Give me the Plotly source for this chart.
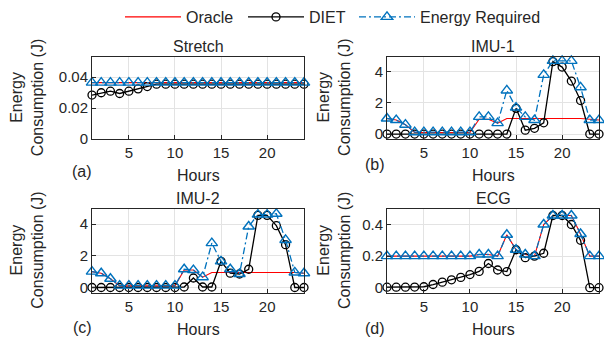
import plotly.graph_objects as go

W, H = 604, 349

hours = list(range(1, 25))

# Stretch
stretch_oracle = [0.0365] * 24
stretch_diet = [0.0285, 0.0300, 0.0310, 0.0295, 0.0310, 0.0325, 0.0340, 0.0355,
                0.0355, 0.0355, 0.0355, 0.0355, 0.0355, 0.0355, 0.0355, 0.0355,
                0.0355, 0.0355, 0.0355, 0.0355, 0.0355, 0.0355, 0.0355, 0.0355]
stretch_energy = [0.0365] * 24

# IMU-1
imu1_oracle = [1.0, 0.9, 0.6, 0.1, 0.1, 0.1, 0.1, 0.1, 0.1, 0.1, 0.95, 0.95,
               0.7, 1.0, 1.0, 1.0, 1.0, 1.0, 1.0, 1.0, 1.0, 1.0, 0.95, 0.9]
imu1_diet = [0, 0, 0, 0, 0, 0, 0, 0, 0, 0, 0, 0,
             0, 0, 1.65, 0.25, 0.37, 0.72, 4.65, 4.3, 3.4, 2.15, 0, 0]
imu1_energy = [1.0, 0.9, 0.6, 0.12, 0.12, 0.12, 0.12, 0.12, 0.12, 0.12, 1.1, 1.1,
               0.7, 2.8, 1.7, 1.1, 0.9, 3.8, 4.7, 4.7, 4.7, 3.0, 0.9, 0.9]

# IMU-2
imu2_oracle = [1.0, 0.9, 0.55, 0.1, 0.1, 0.1, 0.1, 0.1, 0.1, 0.1, 1.1, 1.1,
               0.65, 0.95, 0.95, 0.95, 0.95, 0.95, 0.95, 0.95, 0.95, 0.95, 0.95, 0.9]
imu2_diet = [0, 0, 0, 0, 0, 0, 0, 0, 0, 0, 0.03, 0.6,
             0.03, 0.03, 1.65, 0.9, 0.85, 1.15, 4.55, 4.55, 3.9, 2.7, 0, 0]
imu2_energy = [1.0, 0.9, 0.55, 0.12, 0.12, 0.12, 0.12, 0.12, 0.12, 0.12, 1.15, 1.1,
               0.65, 2.8, 1.65, 1.15, 0.85, 3.85, 4.6, 4.6, 4.65, 3.0, 0.95, 0.9]

# ECG
ecg_oracle = [0.2, 0.2, 0.2, 0.2, 0.2, 0.2, 0.2, 0.2, 0.2, 0.2, 0.21, 0.21,
              0.2, 0.335, 0.24, 0.21, 0.2, 0.40, 0.457, 0.457, 0.457, 0.34, 0.2, 0.2]
ecg_diet = [0.003, 0.003, 0.003, 0.004, 0.006, 0.02, 0.035, 0.05, 0.065, 0.083, 0.103, 0.153,
            0.112, 0.102, 0.24, 0.19, 0.2, 0.218, 0.457, 0.457, 0.40, 0.30, 0.0, 0.0]
ecg_energy = [0.2, 0.2, 0.2, 0.2, 0.2, 0.2, 0.2, 0.2, 0.2, 0.2, 0.21, 0.21,
              0.2, 0.335, 0.24, 0.21, 0.2, 0.40, 0.457, 0.457, 0.457, 0.34, 0.2, 0.2]

titles = ["Stretch", "IMU-1", "IMU-2", "ECG"]
panel_tags = ["(a)", "(b)", "(c)", "(d)"]
x_ticks = [5, 10, 15, 20]
y_ticks = [[0, 0.02, 0.04], [0, 2, 4], [0, 2, 4], [0, 0.2, 0.4]]
y_ticktext = [["0", "0.02", "0.04"], ["0", "2", "4"], ["0", "2", "4"], ["0", "0.2", "0.4"]]
y_ranges = [[0, 0.053], [-0.33, 4.97], [-0.33, 4.97], [-0.035, 0.5]]

series = [
    (stretch_oracle, stretch_diet, stretch_energy),
    (imu1_oracle, imu1_diet, imu1_energy),
    (imu2_oracle, imu2_diet, imu2_energy),
    (ecg_oracle, ecg_diet, ecg_energy),
]

# plot boxes in pixels: x0, x1, ytop, ybottom
boxes = [(92, 304, 55, 140), (387, 599, 54.5, 140),
         (92, 304, 212, 299), (387, 599, 212, 299.5)]

TXT = "#262626"
FONT = "Liberation Sans, Arial, Helvetica, sans-serif"
BLUE = "#0072BD"
RED = "#FF0000"

fig = go.Figure()

for i, (orc, diet, en) in enumerate(series):
    xa = "x" if i == 0 else f"x{i+1}"
    ya = "y" if i == 0 else f"y{i+1}"
    show = i == 0
    fig.add_trace(go.Scatter(x=hours, y=orc, mode="lines", name="Oracle",
                             line=dict(color=RED, width=1.1), xaxis=xa, yaxis=ya,
                             showlegend=show, legend="legend", cliponaxis=False))
    fig.add_trace(go.Scatter(x=hours, y=diet, mode="lines+markers", name="DIET",
                             line=dict(color="black", width=1.3),
                             marker=dict(symbol="circle-open", size=8, color="black",
                                         line=dict(width=1.3, color="black")),
                             xaxis=xa, yaxis=ya, showlegend=show, legend="legend2",
                             cliponaxis=False))
    fig.add_trace(go.Scatter(x=hours, y=en, mode="lines+markers", name="Energy Required",
                             line=dict(color=BLUE, width=1.3, dash="7px,3px,2px,3px"),
                             marker=dict(symbol="triangle-up-open", size=10, color=BLUE,
                                         line=dict(width=1.4, color=BLUE)),
                             xaxis=xa, yaxis=ya, showlegend=show, legend="legend3",
                             cliponaxis=False))


def leg(xpx):
    return dict(orientation="h", x=xpx / W, xanchor="left", y=1 - 13 / H, yanchor="middle",
                font=dict(size=16, color=TXT), bgcolor="rgba(0,0,0,0)", itemwidth=56)


layout = dict(
    width=W, height=H,
    margin=dict(l=0, r=0, t=0, b=0),
    paper_bgcolor="white", plot_bgcolor="white",
    font=dict(family=FONT, size=15, color=TXT),
    showlegend=True,
    legend=leg(120), legend2=leg(243), legend3=leg(354),
)

annotations = []
for i in range(4):
    x0, x1, yt, yb = boxes[i]
    xk = "xaxis" if i == 0 else f"xaxis{i+1}"
    yk = "yaxis" if i == 0 else f"yaxis{i+1}"
    ya = "y" if i == 0 else f"y{i+1}"
    xa = "x" if i == 0 else f"x{i+1}"
    layout[xk] = dict(domain=[x0 / W, x1 / W], anchor=ya, range=[1, 24],
                      tickvals=x_ticks, ticks="inside", ticklen=4, tickcolor=TXT,
                      showline=True, mirror=True, linecolor=TXT, linewidth=1,
                      showgrid=True, gridcolor="#e3e3e3", gridwidth=1, zeroline=False,
                      tickfont=dict(size=15, color=TXT))
    layout[yk] = dict(domain=[1 - yb / H, 1 - yt / H], anchor=xa, range=y_ranges[i],
                      tickvals=y_ticks[i], ticktext=y_ticktext[i], ticks="inside", ticklen=4,
                      tickcolor=TXT, showline=True, mirror=True, linecolor=TXT, linewidth=1,
                      showgrid=True, gridcolor="#e3e3e3", gridwidth=1, zeroline=False,
                      tickfont=dict(size=15, color=TXT))
    cx = (x0 + x1) / 2
    annotations.append(dict(text=titles[i], x=cx / W, y=1 - (yt - 10.5) / H,
                            xref="paper", yref="paper", showarrow=False,
                            xanchor="center", yanchor="middle",
                            font=dict(size=16, color=TXT)))
    annotations.append(dict(text="Hours", x=cx / W, y=1 - (yb + 38) / H,
                            xref="paper", yref="paper", showarrow=False,
                            xanchor="center", yanchor="middle",
                            font=dict(size=16, color=TXT)))
    lx = 27 if i in (0, 2) else 334
    annotations.append(dict(text="Energy<br>Consumption (J)", x=lx / W, y=1 - ((yt + yb) / 2) / H,
                            xref="paper", yref="paper", showarrow=False, textangle=-90,
                            xanchor="center", yanchor="middle",
                            font=dict(size=16, color=TXT)))
    tag_x = 82 if i in (0, 2) else 375
    tag_dy = [33, 26, 36, 37][i]
    annotations.append(dict(text=panel_tags[i], x=tag_x / W, y=1 - (yb + tag_dy) / H,
                            xref="paper", yref="paper", showarrow=False,
                            xanchor="center", yanchor="middle",
                            font=dict(size=16, color=TXT)))

layout["annotations"] = annotations
fig.update_layout(**layout)

fig.write_html("out.html", config={"displayModeBar": False},
               post_script="document.body.style.margin='0';document.body.style.padding='0';")
